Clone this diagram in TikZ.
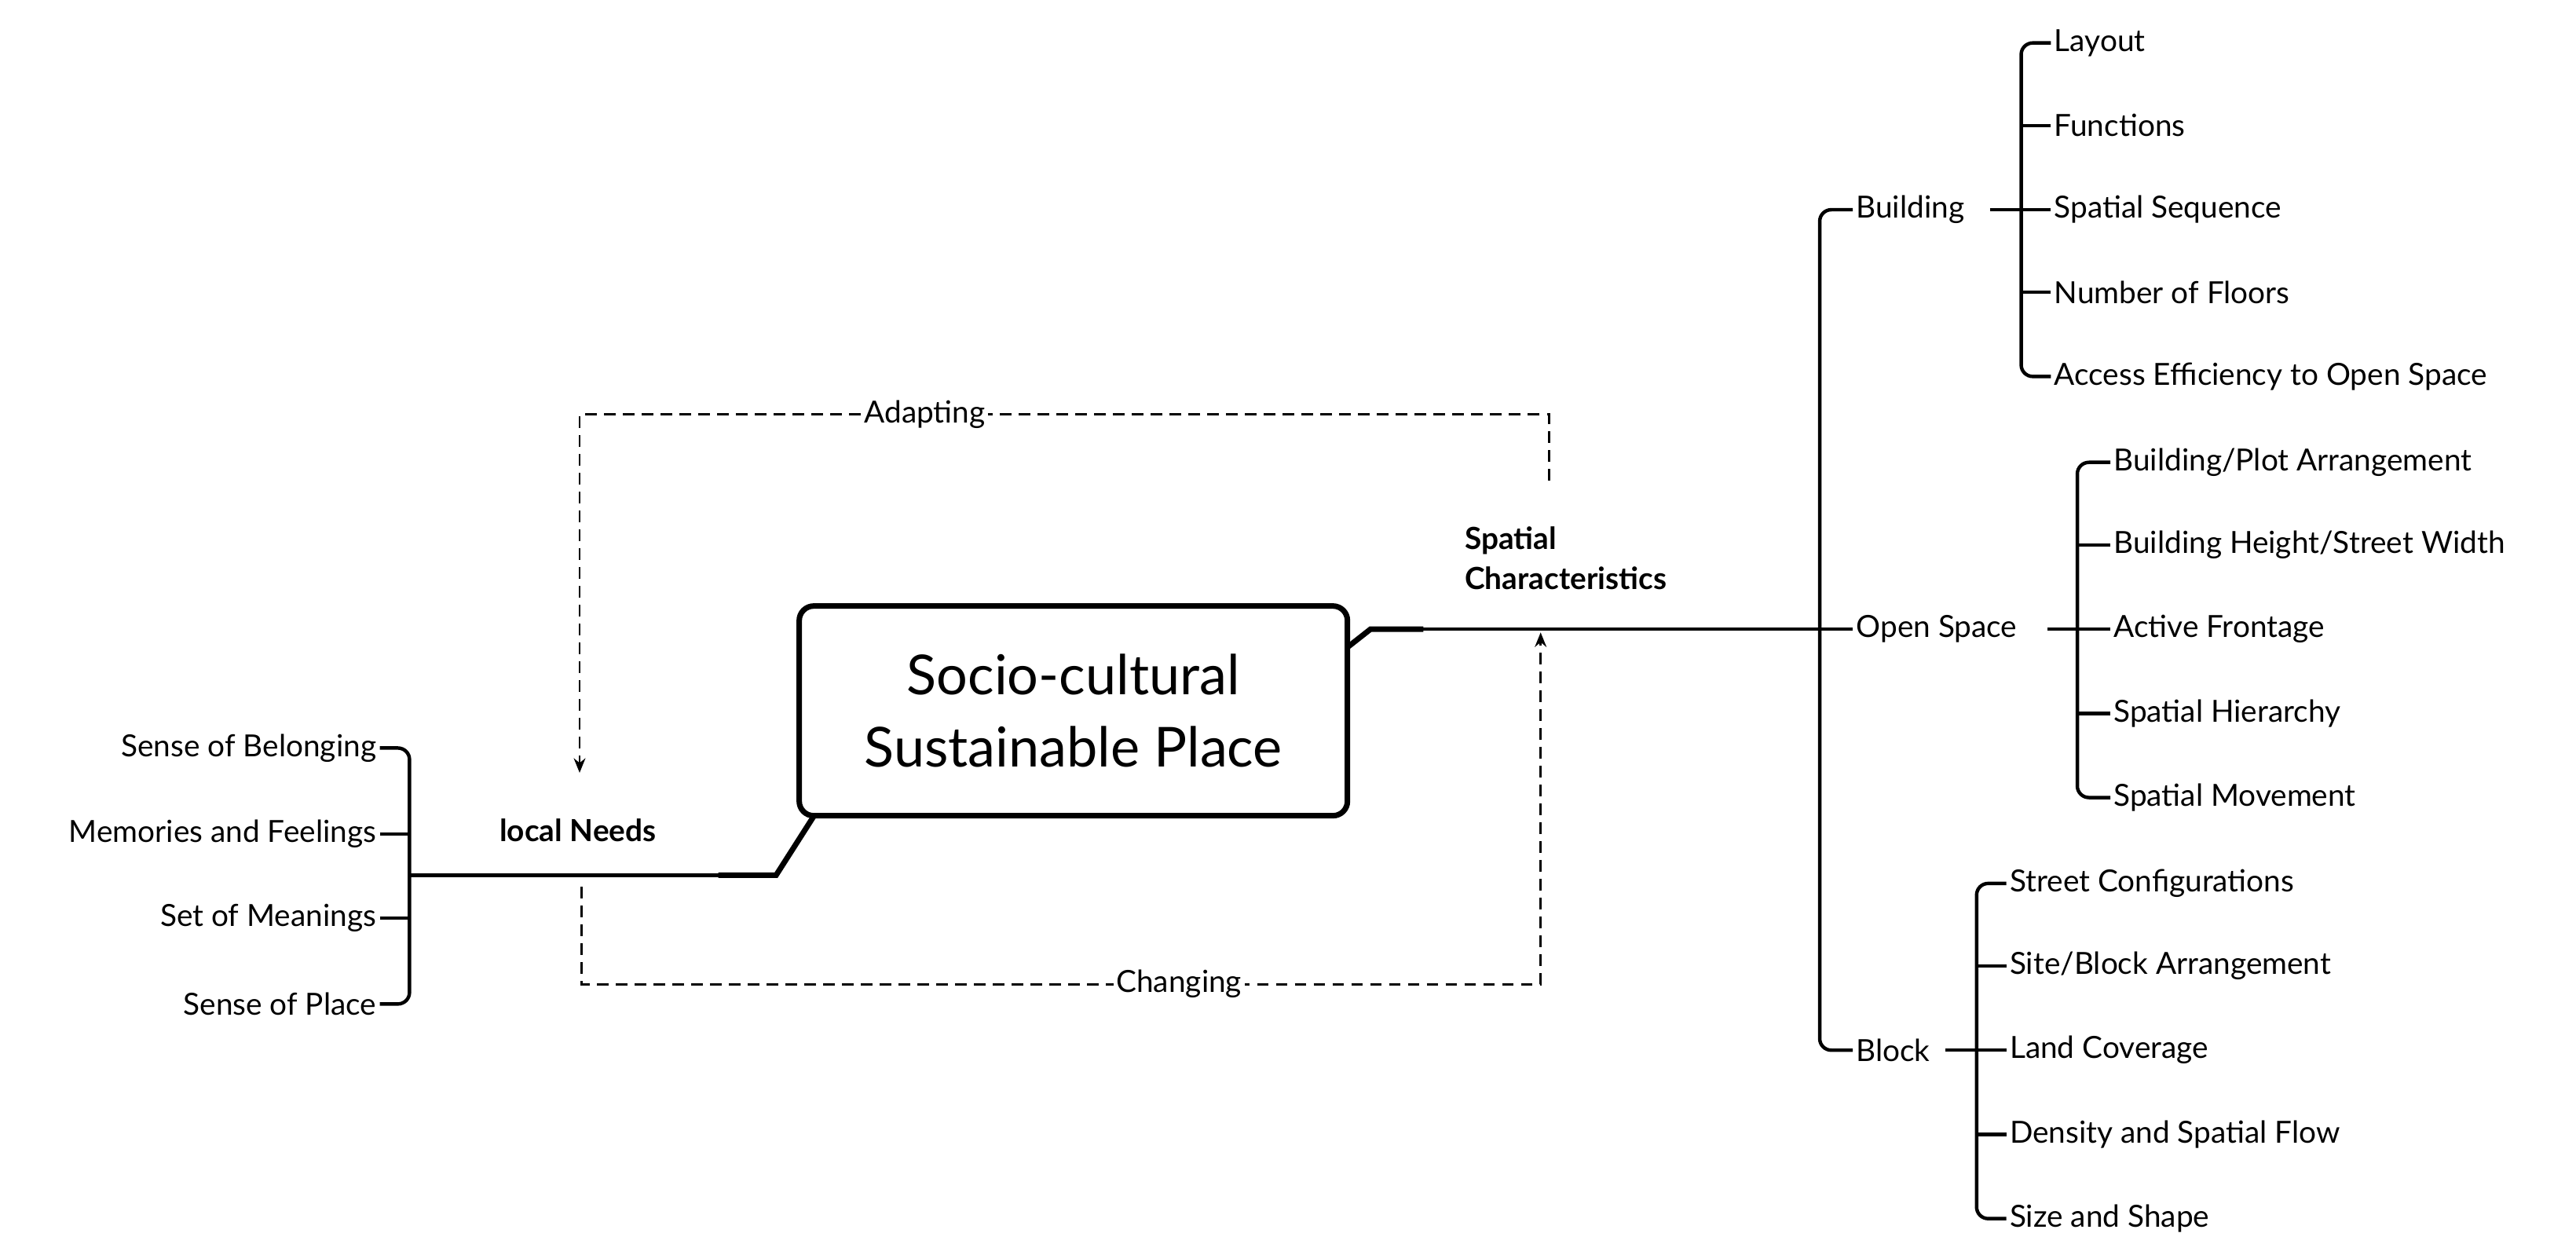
\documentclass[tikz,border=0pt]{standalone}
\usepackage{fontspec}
\setmainfont{Lato}
\usetikzlibrary{arrows.meta}
\begin{document}
\begin{tikzpicture}[x=0.02cm,y=-0.02cm,
  ln/.style={line width=1.2pt,rounded corners=4pt},
  thk/.style={line width=1.9pt},
  dsh/.style={line width=0.8pt,dash pattern=on 4pt off 2.5pt,-{Stealth[length=5pt,width=4pt]}},
  it/.style={font=\fontsize{10.5pt}{12pt}\selectfont,inner sep=1pt},
  itl/.style={it,anchor=west},
  itr/.style={it,anchor=east},
  bl/.style={font=\fontsize{10.5pt}{14pt}\selectfont\bfseries,inner sep=1pt}]
\useasboundingbox (0,0) rectangle (1560,760);
% main box
\node[draw,line width=1.9pt,rounded corners=5pt,minimum width=332*0.02cm,minimum height=127*0.02cm,
  font=\fontsize{19pt}{25pt}\selectfont,align=center] (main) at (650,430.5) {Socio-cultural\\Sustainable Place};
% left
\node[bl] (ln) at (350,503) {local Needs};
\foreach \t/\y/\n in {Sense of Belonging/453/l1,Memories and Feelings/505/l2,Set of Meanings/556/l3,Sense of Place/608/l4}
  \node[itr] (\n) at (230,\y) {\t};
\draw[ln] (l1.east) -- (248,453) -- (248,608) -- (l4.east);
\draw[ln] (l2.east) -- (248,505);
\draw[ln] (l3.east) -- (248,556);
\coordinate (jl) at (435,530);
\draw[line width=1.2pt] (248,530) -- (jl);
\draw[thk] (jl) -- (470,530) -- (493,494);
% right
\node[bl,align=left,anchor=west] (sc) at (885,338) {Spatial\\Characteristics};
\draw[thk] (816,392) -- (830,381) -- (862,381);
\coordinate (jr) at (862,381);
\node[itl] (b) at (1122,127) {Building};
\node[itl] (o) at (1122,381) {Open Space};
\node[itl] (k) at (1122,636) {Block};
\draw[line width=1.2pt] (jr) -- (o.west);
\draw[ln] (b.west) -- (1102,127) -- (1102,636) -- (k.west);
% adapting / changing
\draw[dsh] (938,291) -- (938,251) -- (351,251) -- (351,468);
\node[it,fill=white] (ad) at (560,251) {Adapting};
\draw[dsh] (352,537) -- (352,596) -- (933,596) -- (933,383);
\node[it,fill=white] (ch) at (714,596) {Changing};
% building items
\foreach \t/\y/\n in {Layout/26/b1,Functions/76/b2,Spatial Sequence/127/b3,Number of Floors/177/b4,Access Efficiency to Open Space/228/b5}
  \node[itl] (\n) at (1242,\y) {\t};
\draw[ln] (b1.west) -- (1224,26) -- (1224,228) -- (b5.west);
\draw[ln] (b2.west) -- (1224,76); \draw[ln] (b4.west) -- (1224,177);
\draw[line width=1.2pt] (1205,127) -- (b3.west);
% open space items
\foreach \t/\y/\n in {{Building/Plot Arrangement}/280/o1,{Building Height/Street Width}/330/o2,Active Frontage/381/o3,Spatial Hierarchy/432/o4,Spatial Movement/483/o5}
  \node[itl] (\n) at (1278,\y) {\t};
\draw[ln] (o1.west) -- (1258,280) -- (1258,483) -- (o5.west);
\draw[ln] (o2.west) -- (1258,330); \draw[ln] (o4.west) -- (1258,432);
\draw[line width=1.2pt] (1240,381) -- (o3.west);
% block items
\foreach \t/\y/\n in {Street Configurations/535/k1,{Site/Block Arrangement}/585/k2,Land Coverage/636/k3,Density and Spatial Flow/687/k4,Size and Shape/738/k5}
  \node[itl] (\n) at (1215,\y) {\t};
\draw[ln] (k1.west) -- (1197,535) -- (1197,738) -- (k5.west);
\draw[ln] (k2.west) -- (1197,585); \draw[ln] (k4.west) -- (1197,687);
\draw[line width=1.2pt] (1178,636) -- (k3.west);
\end{tikzpicture}
\end{document}
